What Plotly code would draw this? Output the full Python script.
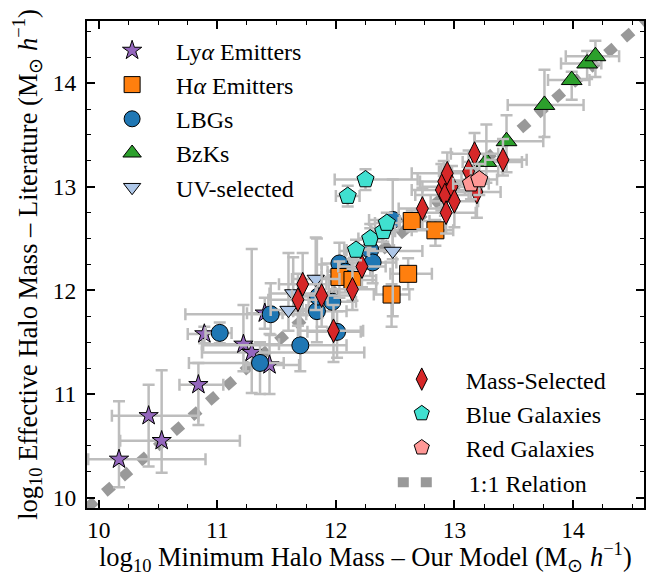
import plotly.graph_objects as go

# ---- data: log10 halo masses (x = our model, y = literature) with asymmetric errors ----
lya_x = [10.17, 10.42, 10.53, 10.84, 10.89, 11.22, 11.29, 11.40, 11.44]
lya_y = [10.37, 10.79, 10.55, 11.09, 11.58, 11.48, 11.40, 11.78, 11.28]
lya_xm = [0.26, 0.31, 0.35, 0.16, 0.14, 0.35, 0.42, 0.15, 0.20]
lya_xp = [0.73, 0.42, 0.66, 0.21, 0.11, 0.30, 0.95, 0.15, 0.25]
lya_ym = [0.27, 0.49, 0.31, 0.39, 0.09, 0.26, 0.39, 0.15, 0.28]
lya_yp = [0.56, 0.30, 0.68, 0.21, 0.07, 0.38, 1.00, 0.15, 0.30]

lbg_x = [11.02, 11.36, 11.45, 11.70, 11.84, 11.85, 11.97, 12.01, 12.03, 12.08, 12.29, 12.31, 12.48]
lbg_y = [11.59, 11.30, 11.77, 11.47, 11.80, 11.94, 11.89, 11.60, 12.26, 12.18, 12.39, 12.27, 12.68]
lbg_xm = [0.12, 0.60, 0.72, 0.82, 0.20, 0.15, 0.20, 0.25, 0.15, 0.15, 0.20, 0.20, 0.20]
lbg_xp = [0.10, 0.20, 0.30, 0.39, 0.25, 0.15, 0.20, 0.20, 0.15, 0.15, 0.20, 0.20, 0.15]
lbg_ym = [0.10, 0.30, 0.20, 0.25, 0.30, 0.20, 0.25, 0.25, 0.20, 0.20, 0.25, 0.20, 0.38]
lbg_yp = [0.10, 0.20, 0.30, 0.35, 0.70, 0.20, 0.30, 0.20, 0.20, 0.20, 0.25, 0.20, 0.39]

ha_x = [12.03, 12.14, 12.47, 12.61, 12.64, 12.84]
ha_y = [12.13, 12.10, 11.96, 12.16, 12.67, 12.58]
ha_xm = [0.15, 0.20, 0.15, 0.15, 0.10, 0.20]
ha_xp = [0.15, 0.20, 0.15, 0.20, 0.15, 0.15]
ha_ym = [0.20, 0.20, 0.31, 0.15, 0.10, 0.15]
ha_yp = [0.15, 0.20, 0.10, 0.15, 0.10, 0.10]

bzk_x = [13.27, 13.44, 13.76, 13.99, 14.12, 14.19]
bzk_y = [13.24, 13.44, 13.79, 14.03, 14.19, 14.26]
bzk_xm = [0.20, 0.27, 0.31, 0.20, 0.22, 0.25]
bzk_xp = [0.30, 0.31, 0.33, 0.15, 0.12, 0.20]
bzk_ym = [0.20, 0.30, 0.31, 0.19, 0.15, 0.20]
bzk_yp = [0.36, 0.25, 0.34, 0.08, 0.12, 0.15]

uv_x = [11.64, 11.60, 11.83, 12.48]
uv_y = [11.97, 11.81, 12.11, 12.38]
uv_xm = [0.20, 0.15, 0.20, 0.20]
uv_xp = [0.20, 0.15, 0.20, 0.25]
uv_ym = [0.20, 0.20, 0.30, 0.63]
uv_yp = [0.35, 0.55, 0.40, 0.20]

ms_x = [11.68, 11.72, 11.88, 11.98, 12.14, 12.22, 12.73, 12.89, 12.91, 12.92,
        12.93, 12.94, 12.98, 13.00, 13.12, 13.17, 13.19, 13.41]
ms_y = [11.91, 12.06, 11.95, 11.61, 12.01, 12.23, 12.79, 12.97, 13.05, 12.92,
        12.75, 13.13, 13.00, 12.86, 13.15, 13.32, 12.95, 13.26]
ms_xm = [0.25, 0.20, 0.25, 0.30, 0.20, 0.20, 0.20, 0.25, 0.20, 0.25,
         0.20, 0.30, 0.25, 0.20, 0.25, 0.20, 0.20, 0.15]
ms_xp = [0.25, 0.20, 0.25, 0.25, 0.20, 0.20, 0.20, 0.20, 0.25, 0.20,
         0.25, 0.25, 0.25, 0.20, 0.25, 0.20, 0.20, 0.20]
ms_ym = [0.25, 0.30, 0.30, 0.30, 0.20, 0.20, 0.20, 0.20, 0.25, 0.20,
         0.20, 0.25, 0.20, 0.25, 0.20, 0.20, 0.25, 0.15]
ms_yp = [0.25, 0.30, 0.30, 0.25, 0.20, 0.20, 0.20, 0.25, 0.20, 0.20,
         0.20, 0.20, 0.20, 0.20, 0.20, 0.20, 0.20, 0.20]

blue_x = [12.10, 12.17, 12.25, 12.29, 12.40, 12.43]
blue_y = [12.91, 12.39, 13.07, 12.50, 12.57, 12.65]
blue_xm = [0.10, 0.10, 0.26, 0.10, 0.10, 0.10]
blue_xp = [0.10, 0.10, 0.44, 0.10, 0.10, 0.10]
blue_ym = [0.10, 0.10, 0.10, 0.10, 0.10, 0.10]
blue_yp = [0.10, 0.10, 0.10, 0.10, 0.10, 0.10]

red_x = [13.14, 13.21]
red_y = [13.03, 13.07]
red_xm = [0.15, 0.15]
red_xp = [0.15, 0.15]
red_ym = [0.15, 0.15]
red_yp = [0.15, 0.15]

one_to_one = [9.9, 14.6]

FONT = "Liberation Serif"
ERR_COLOR = "#bdbdbd"
NBSP = "\u00a0"

fig = go.Figure()

# 1:1 relation, drawn underneath everything else; it has its own short-handle legend
fig.add_trace(go.Scatter(
    x=one_to_one, y=one_to_one, mode="lines", name=NBSP * 5 + "1:1 Relation",
    line=dict(color="#999999", width=10, dash="11px,12px"),
    legend="legend3",
))


def add_series(name, x, y, xm, xp, ym, yp, symbol, color, size, legend, rank):
    fig.add_trace(go.Scatter(
        x=x, y=y, mode="markers", name=name,
        marker=dict(symbol=symbol, color=color, size=size,
                    line=dict(color="black", width=1)),
        error_x=dict(type="data", symmetric=False, array=xp, arrayminus=xm,
                     color=ERR_COLOR, thickness=2.5, width=6),
        error_y=dict(type="data", symmetric=False, array=yp, arrayminus=ym,
                     color=ERR_COLOR, thickness=2.5, width=6),
        legend=legend, legendrank=rank, legendgroup="g%d" % rank,
    ))


add_series("Ly<i>α</i> Emitters", lya_x, lya_y, lya_xm, lya_xp, lya_ym, lya_yp,
           "star", "#9467bd", 14.5, "legend", 1)
add_series("LBGs", lbg_x, lbg_y, lbg_xm, lbg_xp, lbg_ym, lbg_yp,
           "circle", "#1f77b4", 17, "legend", 3)
add_series("H<i>α</i> Emitters", ha_x, ha_y, ha_xm, ha_xp, ha_ym, ha_yp,
           "square", "#ff7f0e", 17, "legend", 2)
add_series("BzKs", bzk_x, bzk_y, bzk_xm, bzk_xp, bzk_ym, bzk_yp,
           "triangle-up", "#2ca02c", 18, "legend", 4)
add_series("UV-selected", uv_x, uv_y, uv_xm, uv_xp, uv_ym, uv_yp,
           "triangle-down", "#aec7e8", 15, "legend", 5)
add_series("Mass-Selected", ms_x, ms_y, ms_xm, ms_xp, ms_ym, ms_yp,
           "diamond-tall", "#d62728", 17, "legend2", 6)
add_series("Blue Galaxies", blue_x, blue_y, blue_xm, blue_xp, blue_ym, blue_yp,
           "pentagon", "#40e0d0", 18, "legend2", 7)
add_series("Red Galaxies", red_x, red_y, red_xm, red_xp, red_ym, red_yp,
           "pentagon", "#ff9896", 18, "legend2", 8)

axis_common = dict(
    range=[9.9, 14.6], dtick=1, tick0=10, automargin=False,
    showline=True, linecolor="black", linewidth=2, mirror="ticks",
    ticks="inside", ticklen=8, tickwidth=1.5, tickcolor="black",
    minor=dict(dtick=0.25, ticks="inside", ticklen=4, tickwidth=1.2, tickcolor="black"),
    showgrid=False, zeroline=False,
    tickfont=dict(family=FONT, size=23.5, color="black"),
)

legend_common = dict(xanchor="left", yanchor="top", bgcolor="rgba(0,0,0,0)",
                     font=dict(family=FONT, size=24),
                     traceorder="grouped", tracegroupgap=0)

fig.update_layout(
    width=656, height=572,
    margin=dict(l=87, r=12, t=21, b=64),
    paper_bgcolor="white", plot_bgcolor="white",
    font=dict(family=FONT, color="black"),
    xaxis=axis_common,
    yaxis=dict(axis_common, ticklabelstandoff=4,
               title=dict(text="log<sub>10</sub> Effective Halo Mass – Literature (M<sub>⊙</sub> <i>h</i><sup>−1</sup>)",
                          font=dict(family=FONT, size=26.5), standoff=8)),
    legend=dict(legend_common, x=0.002, y=0.985, itemwidth=78),
    legend2=dict(legend_common, x=0.522, y=0.31, itemwidth=78),
    legend3=dict(legend_common, x=0.549, y=0.0985, itemwidth=36),
)

# x-axis title placed as a paper-anchored annotation below the tick labels
fig.add_annotation(
    text="log<sub>10</sub> Minimum Halo Mass – Our Model (M<sub>⊙</sub> <i>h</i><sup>−1</sup>)",
    xref="paper", yref="paper", x=0.5, y=-0.0997,
    xanchor="center", yanchor="middle", showarrow=False,
    font=dict(family=FONT, size=26.5, color="black"),
)

fig.write_html("out.html")
